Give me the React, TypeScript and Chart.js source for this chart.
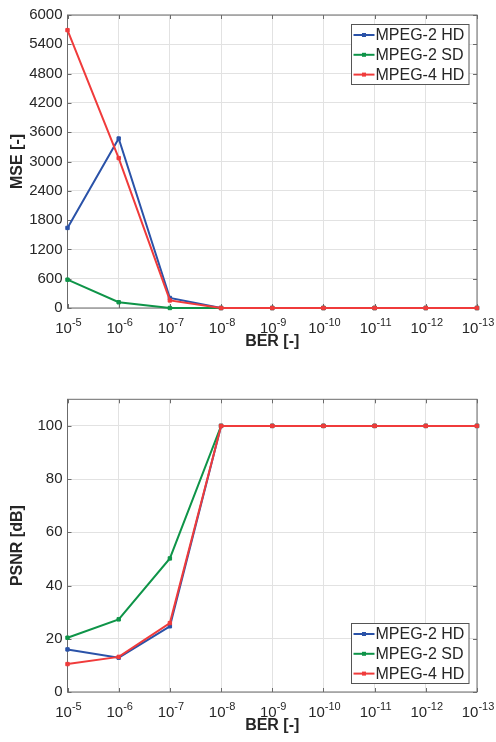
import React, { useEffect, useRef } from "react";
import { Chart, registerables } from "chart.js";

Chart.register(...registerables);

// ---------- data ----------
const berLabels = ["10^-5", "10^-6", "10^-7", "10^-8", "10^-9", "10^-10", "10^-11", "10^-12", "10^-13"];
const seriesNames = ["MPEG-2 HD", "MPEG-2 SD", "MPEG-4 HD"];
const seriesColors = ["#2a52a8", "#0e9448", "#f03b3b"];

const mseMpeg2HD = [1640, 3470, 205, 0, 0, 0, 0, 0, 0];
const mseMpeg2SD = [580, 118, 0, 0, 0, 0, 0, 0, 0];
const mseMpeg4HD = [5690, 3070, 155, 0, 0, 0, 0, 0, 0];

const psnrMpeg2HD = [16.0, 12.9, 24.7, 100, 100, 100, 100, 100, 100];
const psnrMpeg2SD = [20.4, 27.3, 50.2, 100, 100, 100, 100, 100, 100];
const psnrMpeg4HD = [10.5, 13.2, 25.9, 100, 100, 100, 100, 100, 100];

const mseAxis = { min: 0, max: 6000, step: 600, lastTick: 6000 };
const psnrAxis = { min: 0, max: 110, step: 20, lastTick: 100 };

const xTitle = "BER [-]";
const mseTitle = "MSE [-]";
const psnrTitle = "PSNR [dB]";

// ---------- styling ----------
const FONT = "'Liberation Sans', Arial, Helvetica, sans-serif";
const TEXT = "#262626";
const AXIS = "#6b6b6b";
const GRID = "#e2e2e2";
const W = 496;
const H = 371;

const matlabPlugin = {
  id: "matlab",
  beforeDatasetsDraw(chart: any) {
    const { ctx, chartArea: a } = chart;
    const xs = chart.scales.x;
    const ys = chart.scales.y;
    ctx.save();
    ctx.strokeStyle = AXIS;
    ctx.lineWidth = 1;
    ctx.strokeRect(a.left, a.top, a.right - a.left, a.bottom - a.top);
    ctx.beginPath();
    ys.ticks.forEach((_t: any, i: number) => {
      const py = Math.round(ys.getPixelForTick(i)) + 0.5;
      ctx.moveTo(a.left, py);
      ctx.lineTo(a.left + 4, py);
      ctx.moveTo(a.right, py);
      ctx.lineTo(a.right - 4, py);
    });
    xs.ticks.forEach((_t: any, i: number) => {
      const px = Math.round(xs.getPixelForTick(i)) + 0.5;
      ctx.moveTo(px, a.bottom);
      ctx.lineTo(px, a.bottom - 4);
      ctx.moveTo(px, a.top);
      ctx.lineTo(px, a.top + 4);
    });
    ctx.stroke();
    ctx.restore();
  },
  afterDraw(chart: any, _args: any, opts: any) {
    const { ctx, chartArea: a } = chart;
    const xs = chart.scales.x;
    ctx.save();
    ctx.fillStyle = TEXT;
    // x tick labels with superscripts
    const labels: string[] = chart.data.labels;
    labels.forEach((lab: string, i: number) => {
      const [base, exp] = lab.split("^");
      const px = xs.getPixelForTick(i);
      ctx.font = `15px ${FONT}`;
      const wb = ctx.measureText(base).width;
      ctx.font = `11px ${FONT}`;
      const we = ctx.measureText(exp).width;
      const start = px - (wb + we) / 2 + 1;
      const baseY = a.bottom + 24.5;
      ctx.textAlign = "left";
      ctx.textBaseline = "alphabetic";
      ctx.font = `15px ${FONT}`;
      ctx.fillText(base, start, baseY);
      ctx.font = `11px ${FONT}`;
      ctx.fillText(exp, start + wb, baseY - 7);
    });
    // axis titles
    ctx.font = `bold 16px ${FONT}`;
    ctx.textAlign = "center";
    ctx.textBaseline = "middle";
    ctx.fillText(opts.xTitle, (a.left + a.right) / 2, a.bottom + 34);
    ctx.save();
    ctx.translate(18, (a.top + a.bottom) / 2);
    ctx.rotate(-Math.PI / 2);
    ctx.fillText(opts.yTitle, 0, 0);
    ctx.restore();
    // legend
    const bw = 117.5;
    const bh = 60;
    const bx = Math.round(a.right - 9 - bw) + 0.5;
    const by = opts.legend === "top" ? Math.round(a.top + 9) + 0.5 : Math.round(a.bottom - 9 - bh) + 0.5;
    ctx.fillStyle = "#ffffff";
    ctx.fillRect(bx, by, bw, bh);
    ctx.strokeStyle = "#555555";
    ctx.lineWidth = 1;
    ctx.strokeRect(bx, by, bw, bh);
    chart.data.datasets.forEach((ds: any, i: number) => {
      const ry = by + 10.5 + i * 19.8;
      ctx.strokeStyle = ds.borderColor;
      ctx.lineWidth = 2;
      ctx.beginPath();
      ctx.moveTo(bx + 2, ry);
      ctx.lineTo(bx + 23, ry);
      ctx.stroke();
      ctx.fillStyle = ds.borderColor;
      ctx.fillRect(bx + 12.5 - 2, ry - 2, 4, 4);
      ctx.fillStyle = TEXT;
      ctx.font = `16px ${FONT}`;
      ctx.textAlign = "left";
      ctx.textBaseline = "middle";
      ctx.fillText(ds.label, bx + 24, ry + 1);
    });
    ctx.restore();
  },
};

function buildConfig(series: number[][], axis: any, yTitle: string, legend: string, topPad: number, xHeight: number) {
  const orders = [3, 2, 1];
  return {
    type: "line",
    data: {
      labels: berLabels,
      datasets: series.map((d, i) => ({
        label: seriesNames[i],
        data: d,
        borderColor: seriesColors[i],
        backgroundColor: seriesColors[i],
        borderWidth: 2,
        pointStyle: "rect",
        pointRadius: 2.4,
        pointBorderWidth: 1,
        tension: 0,
        order: orders[i],
        clip: false,
      })),
    },
    options: {
      responsive: false,
      animation: false,
      devicePixelRatio: 1,
      layout: { padding: { left: 0, right: 19, top: topPad, bottom: 0 } },
      plugins: {
        legend: { display: false },
        tooltip: { enabled: false },
        matlab: { xTitle, yTitle, legend },
      },
      scales: {
        x: {
          type: "category",
          offset: false,
          grid: { color: GRID, drawTicks: false },
          border: { display: false },
          ticks: { display: false },
          afterFit: (s: any) => {
            s.height = xHeight;
          },
        },
        y: {
          min: axis.min,
          max: axis.max,
          grid: { color: GRID, drawTicks: false },
          border: { display: false },
          ticks: {
            stepSize: axis.step,
            padding: 5,
            color: TEXT,
            font: { family: FONT, size: 15 },
            callback: (v: any) => String(v),
          },
          afterBuildTicks: (s: any) => {
            s.ticks = s.ticks.filter((t: any) => t.value <= axis.lastTick);
          },
          afterFit: (s: any) => {
            s.width = 67.5;
          },
        },
      },
    },
    plugins: [matlabPlugin],
  };
}

function LineChart(props: { config: any; top: number }) {
  const ref = useRef<HTMLCanvasElement | null>(null);
  useEffect(() => {
    if (!ref.current) return;
    const chart = new Chart(ref.current, props.config);
    return () => chart.destroy();
  }, []);
  return (
    <canvas
      ref={ref}
      width={W}
      height={H}
      style={{ position: "absolute", left: 0, top: props.top, width: W, height: H }}
    />
  );
}

export default function App() {
  const top = buildConfig([mseMpeg2HD, mseMpeg2SD, mseMpeg4HD], mseAxis, mseTitle, "top", 15, 63);
  const bottom = buildConfig([psnrMpeg2HD, psnrMpeg2SD, psnrMpeg4HD], psnrAxis, psnrTitle, "bottom", 28.3, 50);
  return (
    <div style={{ position: "fixed", left: 0, top: 0, width: W, height: 742, background: "#ffffff" }}>
      <LineChart config={top} top={0} />
      <LineChart config={bottom} top={371} />
    </div>
  );
}
